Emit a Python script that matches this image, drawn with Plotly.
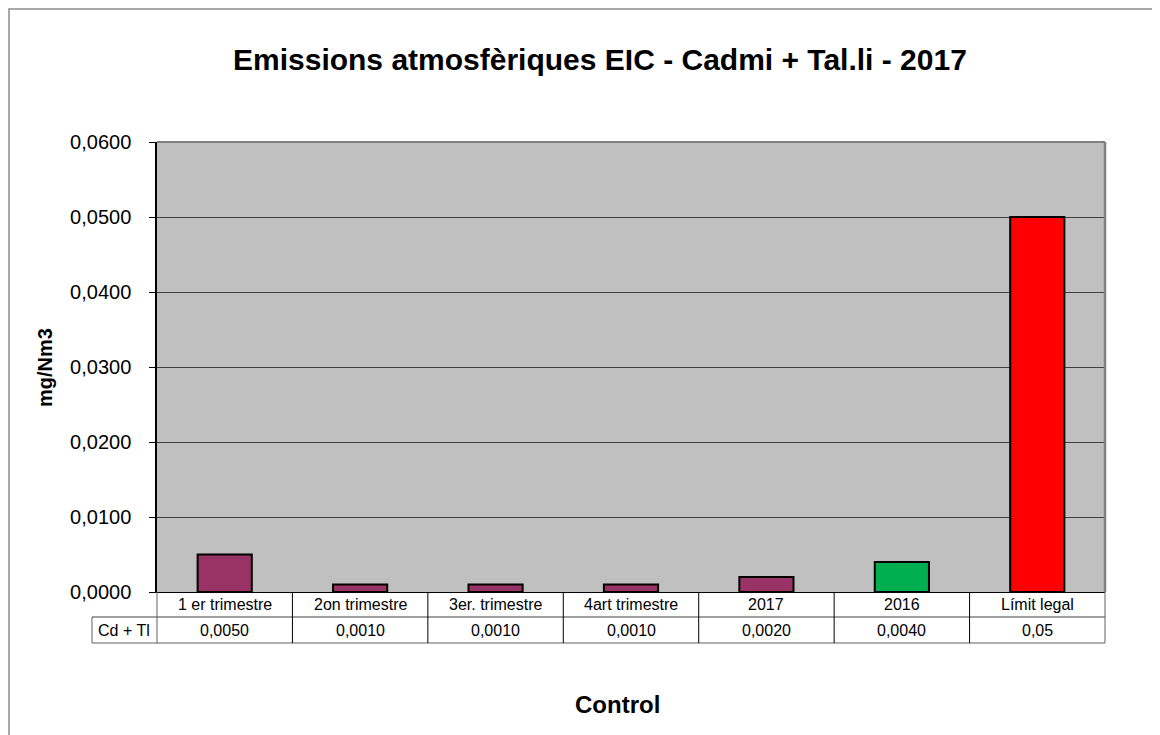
import plotly.graph_objects as go

categories = ["1 er trimestre", "2on trimestre", "3er. trimestre", "4art trimestre", "2017", "2016", "Límit legal"]
values = [0.0050, 0.0010, 0.0010, 0.0010, 0.0020, 0.0040, 0.05]
value_labels = ["0,0050", "0,0010", "0,0010", "0,0010", "0,0020", "0,0040", "0,05"]
bar_colors = ["#993366", "#993366", "#993366", "#993366", "#993366", "#00B050", "#FF0000"]
series_name = "Cd + Tl"
y_ticks = [0, 0.01, 0.02, 0.03, 0.04, 0.05, 0.06]

FONT = "Liberation Sans, Arial, sans-serif"

OFF = 8  # page body margin
W, H = 1160 - OFF, 735 - OFF
L, T = 157 - OFF, 142 - OFF
PW, PH = 948, 450
R = W - L - PW
B = H - T - PH

def px(xs):  # screen x -> paper
    return (xs - OFF - L) / PW

def py(ys):  # screen y -> paper
    return (T + PH - (ys - OFF)) / PH

fig = go.Figure()
fig.add_trace(go.Bar(
    x=categories, y=values, name=series_name,
    marker=dict(color=bar_colors, line=dict(color="black", width=2)),
    hoverinfo="x+y",
))

row1_y, row2_y, row3_y = py(592), py(617), py(643)
n = len(categories)

shapes = []
shapes.append(dict(type="rect", xref="paper", yref="paper",
                   x0=px(9), x1=px(1180), y0=py(760), y1=py(9),
                   line=dict(color="#8C8C8C", width=1.5), layer="below"))
shapes.append(dict(type="line", xref="paper", yref="paper", x0=0, x1=1, y0=1, y1=1,
                   line=dict(color="#808080", width=2)))
shapes.append(dict(type="line", xref="paper", yref="paper", x0=1, x1=1, y0=0, y1=1,
                   line=dict(color="#808080", width=2.5)))
shapes.append(dict(type="line", xref="paper", yref="paper", x0=px(92), x1=1,
                   y0=row2_y, y1=row2_y, line=dict(color="#404040", width=1)))
shapes.append(dict(type="line", xref="paper", yref="paper", x0=px(92), x1=1,
                   y0=row3_y, y1=row3_y, line=dict(color="#606060", width=1)))
shapes.append(dict(type="line", xref="paper", yref="paper", x0=px(92), x1=px(92),
                   y0=row2_y, y1=row3_y, line=dict(color="#606060", width=1)))
for i in range(n + 1):
    shapes.append(dict(type="line", xref="paper", yref="paper", x0=i / n, x1=i / n,
                       y0=row1_y, y1=row3_y,
                       line=dict(color="#000000" if 0 < i < n else "#606060", width=1)))

annotations = []
for i, (c, lab) in enumerate(zip(categories, value_labels)):
    annotations.append(dict(x=i, xref="x", y=(row1_y + row2_y) / 2, yref="paper",
                            text=c, showarrow=False, xanchor="center", yanchor="middle",
                            font=dict(family=FONT, size=16, color="black")))
    annotations.append(dict(x=i, xref="x", y=(row2_y + row3_y) / 2, yref="paper",
                            text=lab, showarrow=False, xanchor="center", yanchor="middle",
                            font=dict(family=FONT, size=16, color="black")))
annotations.append(dict(x=px(124), xref="paper", y=(row2_y + row3_y) / 2, yref="paper",
                        text=series_name, showarrow=False, xanchor="center", yanchor="middle",
                        font=dict(family=FONT, size=16, color="black")))
annotations.append(dict(x=px(600), xref="paper", y=py(60), yref="paper",
                        text="<b>Emissions atmosfèriques EIC - Cadmi + Tal.li - 2017</b>",
                        showarrow=False, xanchor="center", yanchor="middle",
                        font=dict(family=FONT, size=30, color="black")))
annotations.append(dict(x=px(45), xref="paper", y=py(368), yref="paper",
                        text="<b>mg/Nm3</b>", textangle=-90, showarrow=False,
                        xanchor="center", yanchor="middle",
                        font=dict(family=FONT, size=20, color="black")))
annotations.append(dict(x=px(617), xref="paper", y=py(704), yref="paper",
                        text="<b>Control</b>", showarrow=False, xanchor="center", yanchor="middle",
                        font=dict(family=FONT, size=24, color="black")))

fig.update_layout(
    width=W, height=H,
    margin=dict(l=L, r=R, t=T, b=B, pad=0),
    paper_bgcolor="white", plot_bgcolor="#C0C0C0",
    separators=", ",
    showlegend=False,
    bargap=0.6,
    shapes=shapes, annotations=annotations,
    font=dict(family=FONT, color="black"),
)
fig.update_xaxes(type="category", showticklabels=False, ticks="", showgrid=False,
                 showline=True, linecolor="black", linewidth=1, range=[-0.5, n - 0.5])
fig.update_yaxes(range=[0, 0.06], tickvals=y_ticks, tickformat=".4f",
                 showgrid=True, gridcolor="#404040", gridwidth=1,
                 showline=True, linecolor="black", linewidth=1.5,
                 ticks="outside", ticklen=6, tickcolor="black",
                 ticklabelstandoff=14,
                 tickfont=dict(family=FONT, size=20, color="black"),
                 zeroline=False)

fig.write_html("out.html")
